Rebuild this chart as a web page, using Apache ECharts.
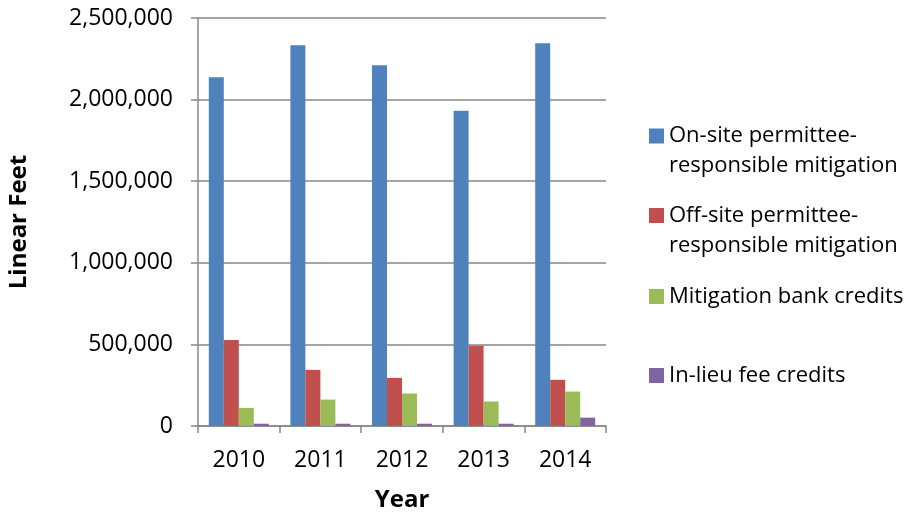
<!DOCTYPE html>
<html>
<head>
<meta charset="utf-8">
<script src="https://cdn.jsdelivr.net/npm/echarts@6/dist/echarts.min.js"></script>
<style>
html,body{margin:0;padding:0;background:#fff;}
#chart{width:920px;height:517px;}
</style>
</head>
<body>
<div id="chart"></div>
<script>
const categories = ['2010', '2011', '2012', '2013', '2014'];
const seriesNames = [
  'On-site permittee-responsible mitigation',
  'Off-site permittee-responsible mitigation',
  'Mitigation bank credits',
  'In-lieu fee credits'
];
const onSite = [2137000, 2333000, 2211000, 1931000, 2345000];
const offSite = [527000, 344000, 295000, 491000, 283000];
const bank = [111000, 162000, 199000, 150000, 211000];
const inLieu = [14000, 14000, 14000, 14000, 51000];
const yTicks = [0, 500000, 1000000, 1500000, 2000000, 2500000];
const legendLines = [
  ['On-site permittee-', 'responsible mitigation'],
  ['Off-site permittee-', 'responsible mitigation'],
  ['Mitigation bank credits'],
  ['In-lieu fee credits']
];

const colors = ['#4F81BD', '#C0504D', '#9BBB59', '#8064A2'];
const values = [onSite, offSite, bank, inLieu];
const FONT = 'Open Sans';
const legendTops = [121, 200.5, 281.5, 360.5];
const sqKeys = ['b0', 'b1', 'b2', 'b3'];

const rich = {
  t: { fontFamily: FONT, fontSize: 22, color: '#000', lineHeight: 30 },
  sp: { width: 5, height: 15 },
  sp2: { width: 20, height: 15 }
};
sqKeys.forEach((k, i) => {
  rich[k] = { width: 15, height: 15, backgroundColor: colors[i] };
});

const legends = seriesNames.map((name, i) => ({
  data: [name],
  orient: 'vertical',
  left: 643,
  top: legendTops[i],
  padding: 0,
  itemWidth: 1,
  itemHeight: 1,
  icon: 'rect',
  itemStyle: { opacity: 0 },
  selectedMode: false,
  formatter: function () {
    const lines = legendLines[i];
    let s = '{' + sqKeys[i] + '|}{sp|}{t|' + lines[0] + '}';
    for (let j = 1; j < lines.length; j++) {
      s += '\n{sp2|}{t|' + lines[j] + '}';
    }
    return s;
  },
  textStyle: { rich: rich, fontFamily: FONT, fontSize: 22, lineHeight: 30 }
}));

const chart = echarts.init(document.getElementById('chart'));
chart.setOption({
  animation: false,
  backgroundColor: '#fff',
  legend: legends,
  grid: { left: 198, right: 314, top: 18, bottom: 90, containLabel: false },
  xAxis: {
    type: 'category',
    data: categories,
    name: 'Year',
    nameLocation: 'middle',
    nameGap: 62,
    nameTextStyle: { fontFamily: FONT, fontSize: 24, fontWeight: 'bold', color: '#000' },
    axisLine: { lineStyle: { color: '#878787', width: 1.5 } },
    axisTick: { show: true, length: 7, inside: false, lineStyle: { color: '#878787', width: 1.5 } },
    axisLabel: { fontFamily: FONT, fontSize: 23, color: '#000', margin: 23 },
    splitLine: { show: false }
  },
  yAxis: {
    type: 'value',
    min: yTicks[0],
    max: yTicks[yTicks.length - 1],
    interval: yTicks[1] - yTicks[0],
    name: 'Linear Feet',
    nameLocation: 'middle',
    nameGap: 167,
    nameRotate: 90,
    nameTextStyle: { fontFamily: FONT, fontSize: 24, fontWeight: 'bold', color: '#000' },
    axisLine: { show: true, lineStyle: { color: '#878787', width: 1.5 } },
    axisTick: { show: true, length: 7, inside: false, lineStyle: { color: '#878787', width: 1.5 } },
    axisLabel: {
      fontFamily: FONT, fontSize: 23, color: '#000', margin: 25,
      formatter: v => v.toLocaleString('en-US')
    },
    splitLine: { show: true, lineStyle: { color: '#878787', width: 1.5 } }
  },
  series: seriesNames.map((name, i) => ({
    name: name,
    type: 'bar',
    data: values[i],
    barWidth: 15,
    barGap: '0%',
    itemStyle: { color: colors[i] },
    emphasis: { disabled: true }
  }))
});
</script>
</body>
</html>
